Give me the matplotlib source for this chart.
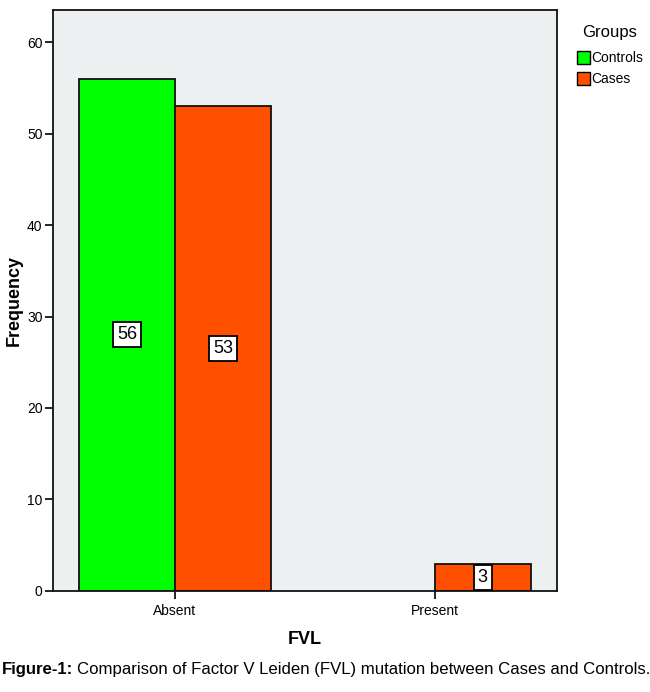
import matplotlib
matplotlib.use("Agg")
import matplotlib.pyplot as plt
import numpy as np
from matplotlib.patches import Patch

categories = ["Absent", "Present"]
groups = ["Controls", "Cases"]
controls = [56, 0]
cases = [53, 3]
colors = {"Controls": "#00FF00", "Cases": "#FF5000"}

plt.rcParams['font.family'] = ['Liberation Sans', 'DejaVu Sans']

fig = plt.figure(figsize=(6.5, 6.92), dpi=100)
ax = fig.add_axes([0.0815, 0.146, 0.775, 0.8395])
ax.set_facecolor("#ECF0F0")

x = np.arange(len(categories))
w = 0.369
series = [controls, cases]
offsets = [-w, 0]
for g, vals, off in zip(groups, series, offsets):
    for xi, v in zip(x, vals):
        if v <= 0:
            continue
        ax.bar(xi + off, v, width=w, align="edge", color=colors[g],
               edgecolor="#111111", linewidth=1.3, zorder=2)
        ax.text(xi + off + w / 2, v / 2, str(v), ha="center", va="center",
                fontsize=13, zorder=3,
                bbox=dict(boxstyle="square,pad=0.22", facecolor="white",
                          edgecolor="black", linewidth=1.3))

ax.set_xlim(-0.469, 1.469)
ax.set_ylim(0, 63.5)
ax.set_yticks([0, 10, 20, 30, 40, 50, 60])
ax.set_xticks(x)
ax.set_xticklabels(categories)
ax.tick_params(axis="both", labelsize=10, length=6, width=1.2, direction="out")
ax.tick_params(axis="y", pad=1.5)
for s in ax.spines.values():
    s.set_linewidth(1.3)
    s.set_color("#111111")

ax.set_ylabel("Frequency", fontsize=13, fontweight="bold")
ax.yaxis.set_label_coords(-0.06, 0.5)
ax.set_xlabel("FVL", fontsize=13, fontweight="bold", labelpad=9)

fig.text(610 / 650, 1 - 32 / 692, "Groups", fontsize=12, ha="center", va="center")
handles = [Patch(facecolor=colors[g], edgecolor="black", label=g) for g in groups]
leg = fig.legend(handles=handles, loc="upper left",
                 bbox_to_anchor=(577 / 650, 1 - 51 / 692), frameon=False, fontsize=10,
                 handlelength=0.9, handleheight=1.1,
                 handletextpad=0.15, labelspacing=0.45, borderaxespad=0,
                 borderpad=0)

t1 = fig.text(0.003, 0.032, "Figure-1:", fontsize=13, fontweight="bold", ha="left", va="center")
t2 = fig.text(0.128, 0.032, "Comparison of Factor V Leiden (FVL) mutation between Cases and Controls.",
              fontsize=13, ha="left", va="center")
fig.canvas.draw()
r = fig.canvas.get_renderer()
W = fig.bbox.width
b1 = t1.get_window_extent(r)
b2 = t2.get_window_extent(r)
total = b1.width + 4 + b2.width
scale = (W - 5) / total
fs = 13 * scale
t1.set_fontsize(fs)
t2.set_fontsize(fs)
fig.canvas.draw()
b1 = t1.get_window_extent(r)
t2.set_x((b1.x1 + 4) / W)

fig.savefig("out.png", dpi=100)
